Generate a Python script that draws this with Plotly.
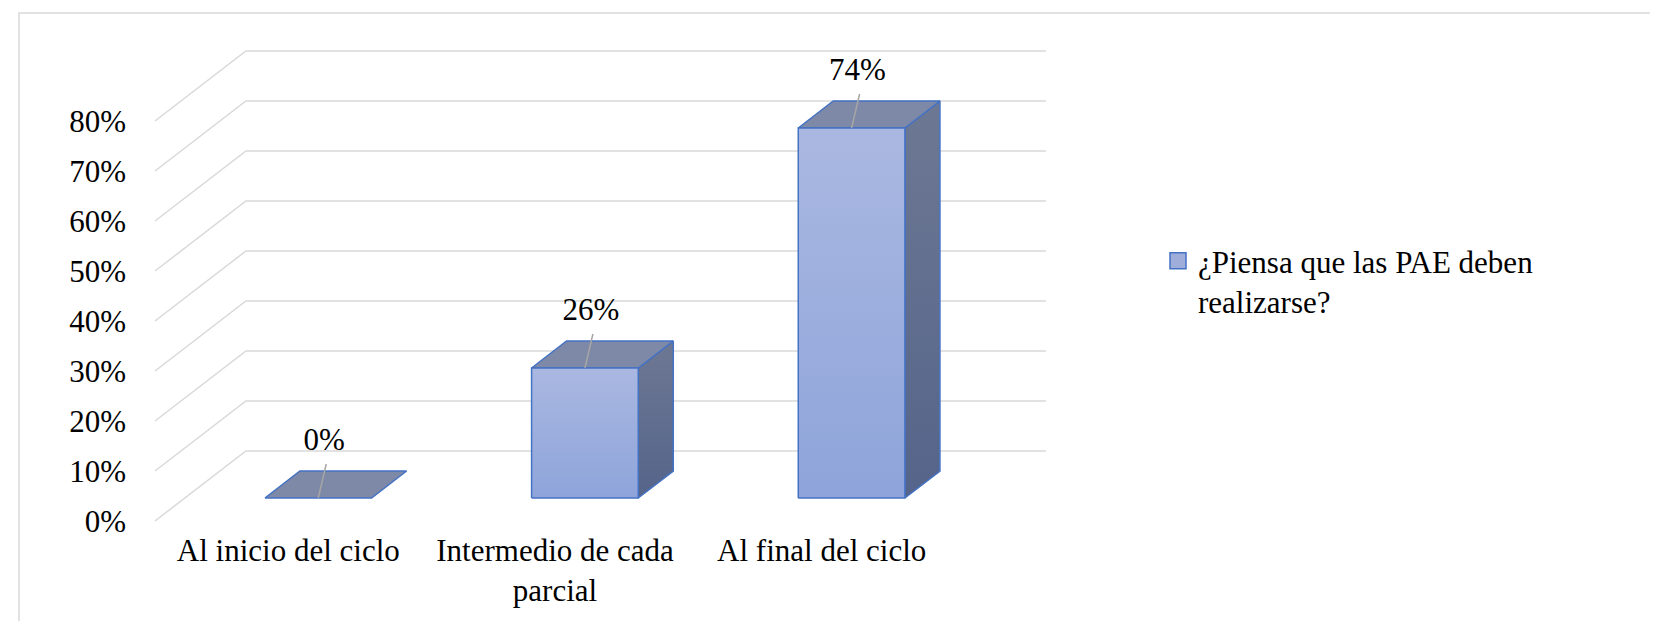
import plotly.graph_objects as go

# ---------------- data ----------------
categories = ["Al inicio del ciclo", "Intermedio de cada<br>parcial", "Al final del ciclo"]
values = [0, 26, 74]
value_labels = ["0%", "26%", "74%"]
y_ticks = [0, 10, 20, 30, 40, 50, 60, 70, 80]
y_tick_labels = ["0%", "10%", "20%", "30%", "40%", "50%", "60%", "70%", "80%"]
series_name = "¿Piensa que las PAE deben<br>realizarse?"

# ---------------- oblique 3D projection (axis units) ----------------
DX = 0.341      # depth shift along x (category units) for full floor depth
DY = 14.0       # depth shift along y (value units) for full floor depth
F1, F2 = 0.329, 0.714   # bar front / back depth fractions
HALF = 0.2      # half bar width (category units)

FONT = "Liberation Serif, Times New Roman, serif"
FS = 31
EDGE = "#4472C4"

W, H = 1658, 621
ML, MR, MT, MB = 137, 558, 10, 106
PW, PH = W - ML - MR, H - MT - MB
PX_PER_CAT = 266.67
PX_PER_PCT = 5.0
x0 = -10 / PX_PER_CAT
x_range = [x0, x0 + PW / PX_PER_CAT]
y0 = -0.4
y_range = [y0, y0 + PH / PX_PER_PCT]


def P(x, v, f):
    return x + DX * f, v + DY * f


def poly(pts):
    xs, ys = [], []
    for (x, v, f) in pts + [pts[0]]:
        X, Y = P(x, v, f)
        xs.append(X)
        ys.append(Y)
    return xs, ys


fig = go.Figure()

# gridlines: left-wall diagonal + back-wall horizontal
gx, gy = [], []
n_cat = len(categories)
for t in y_ticks:
    for (x, v, f) in [(0, t, 0), (0, t, 1), (n_cat, t, 1)]:
        X, Y = P(x, v, f)
        gx.append(X)
        gy.append(Y)
    gx.append(None)
    gy.append(None)
fig.add_trace(go.Scatter(x=gx, y=gy, mode="lines", line=dict(color="#D9D9D9", width=1.5),
                         hoverinfo="skip", showlegend=False))

# bars
for i, v in enumerate(values):
    c = i + 0.5
    l, r = c - HALF, c + HALF
    if v > 0:
        xs, ys = poly([(r, 0, F1), (r, 0, F2), (r, v, F2), (r, v, F1)])
        fig.add_trace(go.Scatter(x=xs, y=ys, mode="lines", fill="toself",
                                 fillgradient=dict(type="vertical",
                                                   colorscale=[[0, "#55648A"], [1, "#6D7893"]]),
                                 line=dict(color=EDGE, width=1.5), hoverinfo="skip", showlegend=False))
    xs, ys = poly([(l, v, F1), (r, v, F1), (r, v, F2), (l, v, F2)])
    fig.add_trace(go.Scatter(x=xs, y=ys, mode="lines", fill="toself", fillcolor="#7E89A8",
                             line=dict(color=EDGE, width=1.5), hoverinfo="skip", showlegend=False))
    if v > 0:
        xs, ys = poly([(l, 0, F1), (r, 0, F1), (r, v, F1), (l, v, F1)])
        fig.add_trace(go.Scatter(x=xs, y=ys, mode="lines", fill="toself",
                                 fillgradient=dict(type="vertical",
                                                   colorscale=[[0, "#8EA4DA"], [1, "#AAB8E1"]]),
                                 line=dict(color=EDGE, width=1.5), hoverinfo="skip", showlegend=False))

# data labels with leader lines
lx, ly, tx, ty = [], [], [], []
for i, v in enumerate(values):
    c = i + 0.5
    X0, Y0 = P(c, v, F1)
    LX, LY = X0 + 0.022, Y0 + 11.2
    tx.append(LX)
    ty.append(LY)
    lx += [LX + 0.008, X0, None]
    ly += [LY - 4.4, Y0, None]
fig.add_trace(go.Scatter(x=lx, y=ly, mode="lines", line=dict(color="#A6A6A6", width=1.5),
                         hoverinfo="skip", showlegend=False))
fig.add_trace(go.Scatter(x=tx, y=ty, mode="text", text=value_labels, textposition="middle center",
                         textfont=dict(family=FONT, size=FS, color="#000000"),
                         cliponaxis=False, hoverinfo="skip", showlegend=False))

# legend entry
fig.add_trace(go.Scatter(x=[None], y=[None], mode="markers", name=series_name,
                         marker=dict(symbol="square", size=16, color="#9EADDA",
                                     line=dict(color=EDGE, width=1.5)),
                         showlegend=True))


def paper_x(px):
    return (px - ML) / PW


def paper_y(py):
    return (H - MB - py) / PH


fig.update_layout(
    width=W, height=H,
    margin=dict(l=ML, r=MR, t=MT, b=MB),
    paper_bgcolor="white", plot_bgcolor="rgba(0,0,0,0)",
    font=dict(family=FONT, size=FS, color="#000000"),
    xaxis=dict(range=x_range, tickmode="array", tickvals=[i + 0.5 for i in range(n_cat)],
               ticktext=categories, showgrid=False, zeroline=False, showline=False, ticks="",
               ticklabelstandoff=6, tickfont=dict(family=FONT, size=FS, color="#000000"), fixedrange=True),
    yaxis=dict(range=y_range, tickmode="array", tickvals=y_ticks, ticktext=y_tick_labels,
               showgrid=False, zeroline=False, showline=False, ticks="",
               ticklabelstandoff=18, tickfont=dict(family=FONT, size=FS, color="#000000"), fixedrange=True),
    legend=dict(x=paper_x(1150), xanchor="left", y=paper_y(226), yanchor="top", valign="top",
                font=dict(family=FONT, size=FS, color="#000000"), bgcolor="rgba(0,0,0,0)",
                itemsizing="trace"),
    showlegend=True,
    shapes=[dict(type="rect", xref="paper", yref="paper", x0=paper_x(11), x1=paper_x(W + 20),
                 y0=paper_y(H + 20), y1=paper_y(5), line=dict(color="#D9D9D9", width=1.5),
                 fillcolor="rgba(0,0,0,0)", layer="below")],
)

fig.write_html("out.html")
